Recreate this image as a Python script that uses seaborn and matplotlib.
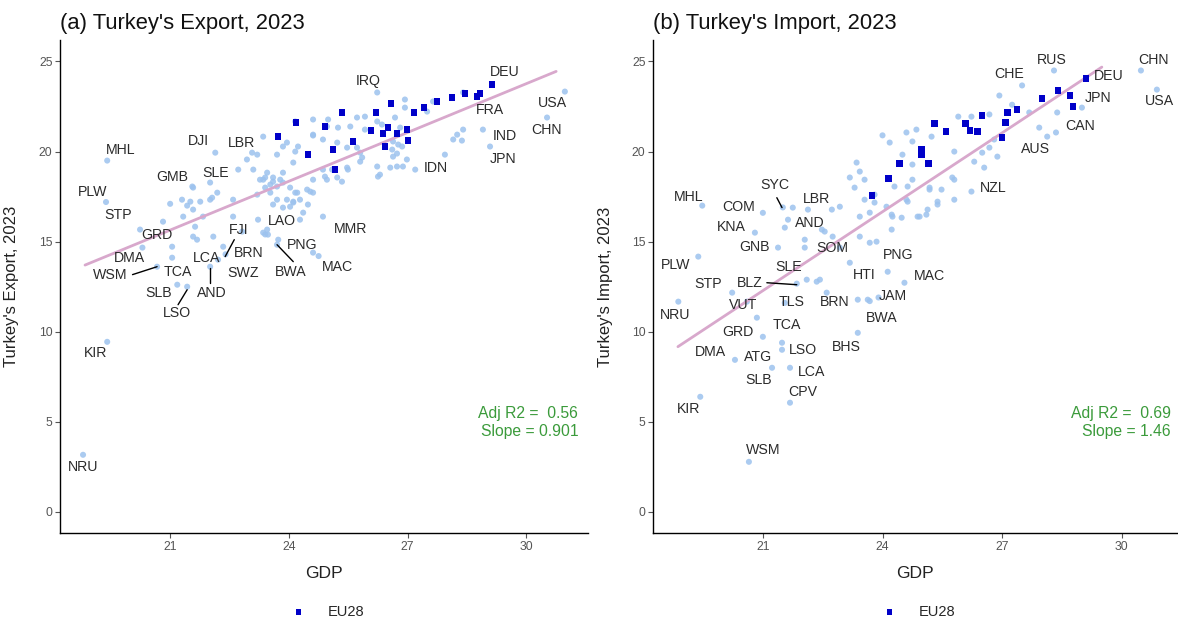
import numpy as np
import pandas as pd
import seaborn as sns
import matplotlib.pyplot as plt

# ---- (a) export: non-EU countries ----
exp_gdp = [18.80, 19.41, 19.41, 19.38, 20.24, 20.82, 20.30, 20.67, 21.05, 21.18, 21.43, 22.01,
           22.21, 22.40, 23.40, 23.70, 24.61, 24.75, 24.86, 23.22, 22.14, 23.20, 21.56, 22.01,
           26.23, 30.97, 30.52, 28.90, 29.08, 27.19,
           21.00, 21.30, 21.51, 21.63, 21.68, 21.05, 21.76, 21.83, 22.01, 22.19, 22.59, 22.59,
           21.58, 21.43, 21.58, 21.33, 21.58, 22.09, 22.34, 22.82, 23.35, 23.47, 22.94, 23.10,
           22.72, 23.07, 23.35, 23.85, 23.95, 24.23, 24.16, 23.70, 23.45, 23.35, 23.60, 23.85,
           24.11, 23.40, 23.60, 23.78, 23.53, 23.70, 23.40, 23.27, 23.85, 24.03, 24.21, 24.46,
           24.61, 23.95, 24.11, 24.28, 23.85, 24.03, 23.60, 24.36, 23.53, 23.20, 22.06, 23.70,
           24.28, 23.45, 23.73, 24.61, 24.86, 25.22, 25.47, 25.80, 25.80, 25.47, 25.22, 24.96,
           24.86, 24.61, 24.61, 24.99, 25.72, 25.92, 25.55, 26.93, 26.93, 26.68, 25.92, 26.23,
           24.16, 24.96, 25.24, 24.61, 25.72, 25.85, 25.49, 25.09, 24.91, 25.34, 24.16, 24.54,
           24.11, 24.48, 26.23, 26.30, 26.56, 26.73, 26.88, 26.98, 26.63, 26.63, 26.76, 26.61,
           26.73, 27.94, 28.15, 28.25, 28.40, 28.37, 28.40, 27.64, 27.49, 26.81, 26.35, 26.25,
           26.86]
exp_val = [3.17, 9.44, 19.50, 17.20, 15.67, 16.11, 14.67, 13.61, 14.11, 12.61, 12.50, 13.61,
           14.00, 14.30, 15.40, 14.83, 14.39, 14.20, 16.39, 16.22, 19.94, 19.83, 18.06, 18.28,
           23.28, 23.33, 21.89, 21.22, 20.28, 19.00,
           17.10, 17.33, 17.22, 15.83, 15.11, 14.72, 17.22, 16.39, 17.33, 17.72, 17.33, 16.39,
           18.00, 17.00, 16.78, 16.39, 15.28, 15.28, 14.72, 15.56, 15.50, 15.39, 19.56, 19.00,
           19.00, 19.94, 20.83, 20.28, 20.50, 20.28, 20.00, 19.83, 18.83, 18.44, 18.33, 18.83,
           19.39, 18.56, 18.56, 18.44, 18.17, 18.06, 18.00, 18.44, 18.28, 18.00, 17.72, 17.89,
           17.72, 17.33, 17.17, 17.33, 16.89, 16.94, 17.06, 16.61, 17.72, 17.61, 17.44, 17.33,
           16.22, 15.67, 15.11, 20.89, 20.67, 20.50, 20.22, 19.94, 19.44, 19.11, 18.56, 18.44,
           19.00, 18.44, 21.78, 21.78, 21.89, 21.22, 21.39, 22.89, 22.44, 21.89, 21.94, 21.67,
           21.67, 21.39, 21.33, 20.94, 20.22, 19.67, 19.00, 19.00, 18.61, 18.33, 17.72, 17.78,
           17.22, 17.06, 19.17, 18.72, 19.11, 19.17, 19.17, 19.56, 19.72, 20.56, 20.39, 20.11,
           19.89, 19.83, 20.67, 20.94, 21.22, 20.61, 23.28, 22.78, 22.22, 21.33, 21.50, 18.61,
           20.28]
# ---- (a) export: EU28 ----
exp_eu_gdp = [23.73, 24.18, 24.91, 25.34, 25.12, 24.48, 25.17, 25.62, 26.08, 26.20, 26.38, 26.51,
              26.58, 26.73, 26.98, 27.01, 26.43, 27.16, 27.41, 27.74, 28.12, 28.45, 28.75, 28.83,
              29.13]
exp_eu_val = [20.83, 21.61, 21.39, 22.17, 20.11, 19.83, 19.00, 20.56, 21.17, 22.17, 21.00, 21.33,
              22.67, 21.00, 21.22, 20.61, 20.28, 22.17, 22.44, 22.78, 23.00, 23.22, 23.06, 23.22,
              23.72]
exp_fit_gdp = [18.85, 30.75]
exp_fit_val = [13.70, 24.45]
exp_lab = ['IRQ', 'DEU', 'FRA', 'USA', 'CHN', 'IND', 'JPN', 'IDN', 'MHL', 'DJI', 'LBR', 'GMB',
           'SLE', 'PLW', 'STP', 'GRD', 'DMA', 'WSM', 'TCA', 'SLB', 'AND', 'LSO', 'LCA', 'FJI',
           'BRN', 'SWZ', 'BWA', 'PNG', 'LAO', 'MMR', 'MAC', 'KIR', 'NRU']
exp_lab_x = [26.00, 29.46, 29.08, 30.65, 30.50, 29.46, 29.41, 27.72, 19.76, 21.71, 22.79, 21.05,
             22.14, 19.03, 19.69, 20.67, 19.96, 19.48, 21.20, 20.70, 22.04, 21.18, 21.93, 22.72,
             22.99, 22.84, 24.05, 24.33, 23.83, 25.55, 25.22, 19.11, 18.80]
exp_lab_y = [23.90, 24.39, 22.33, 22.72, 21.17, 20.89, 19.56, 19.11, 20.11, 20.56, 20.50, 18.61,
             18.83, 17.78, 16.50, 15.39, 14.11, 13.17, 13.33, 12.17, 12.17, 11.06, 14.11, 15.67,
             14.39, 13.28, 13.33, 14.83, 16.17, 15.72, 13.61, 8.83, 2.50]
exp_seg_x = [[20.05, 20.67], [21.20, 21.43], [22.01, 22.01], [22.39, 22.62], [24.11, 23.70]]
exp_seg_y = [[13.17, 13.61], [11.50, 12.33], [12.72, 13.56], [14.17, 15.11], [13.89, 14.83]]

# ---- (b) import: non-EU countries ----
imp_gdp = [19.48, 21.00, 21.50, 22.13, 21.63, 21.55, 20.80, 21.38, 22.05, 19.38, 21.85, 22.10,
           20.23, 20.60, 18.88, 21.55, 23.38, 23.63, 24.13, 20.85, 21.00, 21.48, 21.48, 20.30,
           21.23, 21.68, 21.68, 19.43, 20.65, 23.38, 23.68, 24.55, 23.90, 27.50, 28.30, 29.00,
           28.38, 30.48, 30.88, 27.93, 26.23,
           26.93, 25.90, 26.68, 27.68, 28.13, 28.35, 26.80, 26.68, 26.50, 26.30, 26.55, 26.88,
           25.80, 25.48, 25.18, 25.38, 25.13, 24.93, 24.60, 24.25, 24.18, 24.60, 24.85, 24.75,
           24.63, 25.80, 26.23, 23.35, 23.43, 23.18, 23.30, 23.55, 23.55, 23.80, 23.43, 23.68,
           23.80, 24.10, 24.50, 24.75, 24.30, 22.93, 22.73, 22.48, 22.75, 23.43, 23.68, 23.85,
           24.23, 24.48, 23.18, 22.05, 22.43, 22.60, 21.75, 25.18, 25.75, 25.80, 25.38, 25.10,
           24.88, 24.63, 24.23, 22.55, 22.93, 22.35, 24.00, 24.75, 25.23, 27.25]
imp_val = [17.00, 16.60, 16.90, 16.78, 16.22, 15.78, 15.50, 14.67, 14.67, 14.17, 12.67, 12.89,
           12.17, 11.67, 11.67, 11.60, 11.78, 11.78, 13.33, 10.78, 9.72, 9.39, 9.00, 8.44,
           8.00, 8.00, 6.06, 6.39, 2.78, 9.94, 11.70, 12.72, 11.90, 23.67, 24.50, 22.44,
           22.17, 24.50, 23.44, 21.33, 17.78,
           23.11, 21.94, 22.06, 22.17, 20.83, 21.06, 20.67, 20.22, 19.94, 19.44, 19.11, 19.72,
           18.44, 17.89, 17.89, 17.22, 16.78, 16.39, 17.33, 16.39, 20.50, 21.06, 21.22, 18.44,
           18.06, 20.00, 21.94, 19.39, 18.89, 18.56, 18.00, 18.44, 17.33, 17.61, 16.39, 16.61,
           17.17, 16.94, 19.83, 19.28, 18.06, 16.94, 16.78, 15.67, 15.28, 15.28, 14.94, 15.00,
           15.67, 16.33, 13.83, 15.11, 12.89, 12.17, 16.89, 18.00, 18.56, 17.33, 17.06, 16.50,
           16.39, 17.22, 16.50, 15.56, 14.67, 12.78, 20.90, 20.56, 20.83, 22.60]
# ---- (b) import: EU28 ----
imp_eu_gdp = [29.10, 28.40, 28.00, 28.70, 28.78, 27.38, 27.13, 27.08, 26.50, 26.38, 26.08, 26.20,
              25.60, 25.30, 27.00, 24.98, 24.98, 24.43, 25.15, 24.15, 23.73]
imp_eu_val = [24.06, 23.39, 22.94, 23.11, 22.50, 22.33, 22.17, 21.61, 22.00, 21.11, 21.56, 21.17,
              21.11, 21.56, 20.78, 20.11, 19.83, 19.33, 19.33, 18.50, 17.56]
imp_fit_gdp = [18.87, 29.50]
imp_fit_val = [9.17, 24.69]
imp_lab = ['CHE', 'RUS', 'CHN', 'DEU', 'JPN', 'USA', 'CAN', 'AUS', 'NZL', 'MHL', 'SYC', 'COM',
           'LBR', 'KNA', 'AND', 'GNB', 'SOM', 'PNG', 'PLW', 'SLE', 'HTI', 'MAC', 'BLZ', 'STP',
           'TLS', 'BRN', 'JAM', 'VUT', 'NRU', 'BWA', 'GRD', 'TCA', 'LSO', 'BHS', 'DMA', 'ATG',
           'LCA', 'SLB', 'CPV', 'KIR', 'WSM']
imp_lab_x = [27.18, 28.25, 30.80, 29.68, 29.40, 30.95, 28.95, 27.83, 26.78, 19.13, 21.30, 20.40,
             22.35, 20.20, 22.18, 20.80, 22.73, 24.40, 18.80, 21.65, 23.53, 25.18, 20.68, 19.63,
             21.73, 22.80, 24.25, 20.50, 18.80, 23.98, 20.38, 21.60, 22.00, 23.10, 19.68, 20.88,
             22.23, 20.90, 22.00, 19.13, 21.00]
imp_lab_y = [24.33, 25.11, 25.06, 24.17, 23.00, 22.78, 21.44, 20.17, 18.00, 17.50, 18.17, 16.94,
             17.39, 15.83, 16.06, 14.72, 14.67, 14.28, 13.72, 13.61, 13.17, 13.11, 12.72, 12.67,
             11.67, 11.67, 12.00, 11.50, 10.94, 10.78, 10.00, 10.39, 9.00, 9.17, 8.89, 8.61,
             7.78, 7.33, 6.67, 5.72, 3.44]
imp_seg_x = [[21.35, 21.48], [21.10, 21.85]]
imp_seg_y = [[17.44, 16.89], [12.72, 12.61]]

panels = [
    dict(gdp=exp_gdp, val=exp_val, eu_gdp=exp_eu_gdp, eu_val=exp_eu_val,
         fit_gdp=exp_fit_gdp, fit_val=exp_fit_val, lab=exp_lab, lab_x=exp_lab_x, lab_y=exp_lab_y,
         seg_x=exp_seg_x, seg_y=exp_seg_y, title="(a) Turkey's Export, 2023",
         ylabel="Turkey's Export, 2023", stats="Adj R2 =  0.56\nSlope = 0.901",
         xlim=(18.22, 31.55), sx=0.982),
    dict(gdp=imp_gdp, val=imp_val, eu_gdp=imp_eu_gdp, eu_val=imp_eu_val,
         fit_gdp=imp_fit_gdp, fit_val=imp_fit_val, lab=imp_lab, lab_x=imp_lab_x, lab_y=imp_lab_y,
         seg_x=imp_seg_x, seg_y=imp_seg_y, title="(b) Turkey's Import, 2023",
         ylabel="Turkey's Import, 2023", stats="Adj R2 =  0.69\nSlope = 1.46",
         xlim=(18.25, 31.38), sx=0.988),
]

sns.set_style('white')
plt.rcParams['font.family'] = ['Liberation Sans', 'DejaVu Sans']

fig = plt.figure(figsize=(11.78, 6.23), dpi=100)
axes = [fig.add_axes([0.051, 0.1445, 0.448, 0.7915]),
        fig.add_axes([0.5545, 0.1445, 0.4445, 0.7915])]

for ax, p in zip(axes, panels):
    df = pd.DataFrame({'GDP': p['gdp'], 'val': p['val']})
    eu = pd.DataFrame({'GDP': p['eu_gdp'], 'val': p['eu_val']})
    fit = pd.DataFrame({'GDP': p['fit_gdp'], 'val': p['fit_val']})
    sns.scatterplot(data=df, x='GDP', y='val', ax=ax, color='#9cc2ee', s=19,
                    edgecolor='none', alpha=0.85, legend=False, zorder=2)
    sns.lineplot(data=fit, x='GDP', y='val', ax=ax, color='#d8a8cc', lw=2.0, zorder=3)
    sns.scatterplot(data=eu, x='GDP', y='val', ax=ax, color='#0000c8', marker='s', s=21,
                    edgecolor='none', label='EU28', zorder=4)
    for sx, sy in zip(p['seg_x'], p['seg_y']):
        ax.plot(sx, sy, color='black', lw=1.0, zorder=5)
    for name, lx, ly in zip(p['lab'], p['lab_x'], p['lab_y']):
        ax.text(lx, ly, name, ha='center', va='center', fontsize=10.2, color='#2b2b2b', zorder=6)
    ax.text(p['sx'], 0.225, p['stats'], transform=ax.transAxes, ha='right', va='center',
            fontsize=11.3, color='#3b9b3b', linespacing=1.25)

    ax.set_xlim(*p['xlim'])
    ax.set_ylim(-1.17, 26.2)
    ax.set_xticks([21, 24, 27, 30])
    ax.set_yticks([0, 5, 10, 15, 20, 25])
    ax.tick_params(axis='both', length=3.5, width=0.8, color='#555555', labelcolor='#555555',
                   labelsize=8.8, left=True, bottom=True, pad=2)
    sns.despine(ax=ax)
    for side in ['left', 'bottom']:
        ax.spines[side].set_color('black')
        ax.spines[side].set_linewidth(1.0)
    ax.set_xlabel('GDP', fontsize=12.6, color='#222222')
    ax.set_ylabel(p['ylabel'], fontsize=12, color='#222222')
    ax.xaxis.set_label_coords(0.5, -0.066)
    ax.yaxis.set_label_coords(-0.077, 0.5)
    ax.legend(loc='center', bbox_to_anchor=(0.5, -0.16), frameon=False, fontsize=10.5,
              handletextpad=1.0, markerscale=0.8)
    ax.set_title(p['title'], loc='left', fontsize=15.8, color='#111111', pad=8)

fig.savefig('out.png', dpi=100)
